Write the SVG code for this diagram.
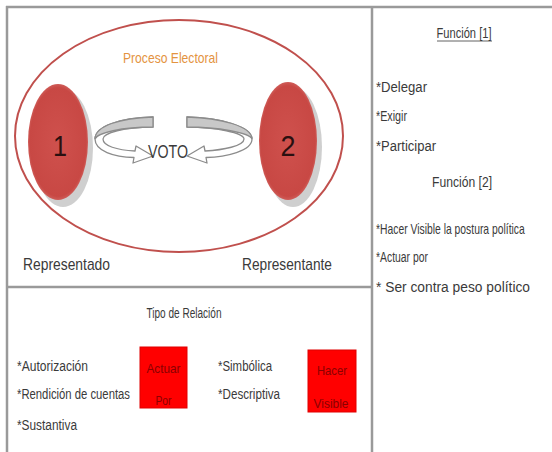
<svg xmlns="http://www.w3.org/2000/svg" width="552" height="452" viewBox="0 0 552 452">
<defs>
<radialGradient id="rg" cx="0.5" cy="0.5" r="0.55">
<stop offset="0" stop-color="#cf514d"/>
<stop offset="0.85" stop-color="#c84844"/>
<stop offset="1" stop-color="#d97a76"/>
</radialGradient>
<style>
.t{font-family:"Liberation Sans",Arial,sans-serif;fill:#3a3a3a;font-size:14px;}
.big{font-size:30px;fill:#2a1010;}
.lbl{font-size:17px;}
.frame{stroke:#9a9a9a;stroke-width:2.5;fill:none;}
.red{fill:#ff0000;stroke:#e00000;stroke-width:1;}
.rt{font-family:"Liberation Sans",Arial,sans-serif;fill:#8a0000;font-size:13px;}
.arr{fill:#ffffff;stroke:#8c8c8c;stroke-width:1.3;stroke-linejoin:round;}
.arrtop{fill:#c8c8c8;stroke:#8c8c8c;stroke-width:1.3;}
.shadow{fill:#cfcfcf;}
</style>
</defs>
<rect width="552" height="452" fill="#ffffff"/>
<g id="frame">
<line class="frame" x1="6" y1="7" x2="552" y2="7"/>
<line class="frame" x1="7" y1="6" x2="7" y2="452"/>
<line class="frame" x1="372" y1="6" x2="372" y2="452"/>
<line class="frame" x1="7" y1="287" x2="372" y2="287"/>
</g>
<g id="proceso-electoral">
<ellipse cx="179" cy="136" rx="164" ry="116" fill="none" stroke="#c0504d" stroke-width="2"/>
<text class="t" x="123" y="63" textLength="95" lengthAdjust="spacingAndGlyphs" style="fill:#e4933f;font-size:15px">Proceso Electoral</text>
</g>
<g id="representado">
<ellipse class="shadow" cx="63" cy="148" rx="30" ry="59"/>
<ellipse cx="58" cy="142" rx="30" ry="58" fill="url(#rg)"/>
<text class="t big" x="60" y="156" text-anchor="middle" textLength="14" lengthAdjust="spacingAndGlyphs">1</text>
<text class="t lbl" x="23" y="270" textLength="87" lengthAdjust="spacingAndGlyphs">Representado</text>
</g>
<g id="representante">
<ellipse class="shadow" cx="293" cy="147" rx="29" ry="60"/>
<ellipse cx="288" cy="141" rx="29" ry="59" fill="url(#rg)"/>
<text class="t big" x="288" y="156" text-anchor="middle" textLength="15" lengthAdjust="spacingAndGlyphs">2</text>
<text class="t lbl" x="242" y="270" textLength="90" lengthAdjust="spacingAndGlyphs">Representante</text>
</g>
<g id="connectors">
<g id="arrow-left">
<path class="arr" d="M153,117 C120,118 95,126 95,139 C95,151 114,157 134,157.5 L133,163 L153,156 L136,146 L135,151 C117,150 103,146 103,139 C103,133 124,127 153,127 Z"/>
<path class="arrtop" d="M153,117 C120,118 95,126 95,139 C97,133 122,127 153,127 Z"/>
</g>
<g id="arrow-right" transform="translate(340,0) scale(-1,1)">
<path class="arr" d="M153,117 C120,118 88,126 88,139 C88,151 114,157 134,157.5 L133,163 L153,156 L136,146 L135,151 C117,150 96,146 96,139 C96,133 124,127 153,127 Z"/>
<path class="arrtop" d="M153,117 C120,118 88,126 88,139 C90,133 122,127 153,127 Z"/>
</g>
<text class="t" x="168" y="158" text-anchor="middle" textLength="40" lengthAdjust="spacingAndGlyphs" style="font-size:18px">VOTO</text>
</g>
<g id="funciones">
<text class="t" x="464" y="38" text-anchor="middle" textLength="55" lengthAdjust="spacingAndGlyphs">Función [1]</text>
<line x1="437" y1="41" x2="492" y2="41" stroke="#3a3a3a" stroke-width="0.8"/>
<text class="t" x="376" y="92" textLength="51" lengthAdjust="spacingAndGlyphs">*Delegar</text>
<text class="t" x="376" y="121" textLength="31" lengthAdjust="spacingAndGlyphs">*Exigir</text>
<text class="t" x="376" y="151" textLength="60" lengthAdjust="spacingAndGlyphs">*Participar</text>
<text class="t" x="462" y="187" text-anchor="middle" textLength="60" lengthAdjust="spacingAndGlyphs">Función [2]</text>
<text class="t" transform="translate(376,234) scale(0.74,1)" x="0" y="0">*Hacer Visible la postura política</text>
<text class="t" x="376" y="262" textLength="52" lengthAdjust="spacingAndGlyphs">*Actuar por</text>
<text class="t" x="376" y="292" textLength="154" lengthAdjust="spacingAndGlyphs">* Ser contra peso político</text>
</g>
<g id="tipo-relacion">
<text class="t" x="184" y="318" text-anchor="middle" textLength="75" lengthAdjust="spacingAndGlyphs">Tipo de Relación</text>
<text class="t" x="17" y="371" textLength="71" lengthAdjust="spacingAndGlyphs">*Autorización</text>
<text class="t" x="17" y="399" textLength="113" lengthAdjust="spacingAndGlyphs">*Rendición de cuentas</text>
<text class="t" x="17" y="430" textLength="60" lengthAdjust="spacingAndGlyphs">*Sustantiva</text>
<text class="t" x="218" y="371" textLength="54" lengthAdjust="spacingAndGlyphs">*Simbólica</text>
<text class="t" x="218" y="399" textLength="62" lengthAdjust="spacingAndGlyphs">*Descriptiva</text>
</g>
<g id="actuar-por">
<rect class="red" x="140" y="347" width="47" height="61"/>
<text class="rt" x="163.5" y="373" text-anchor="middle" textLength="34" lengthAdjust="spacingAndGlyphs">Actuar</text>
<text class="rt" x="163.5" y="405" text-anchor="middle" textLength="16" lengthAdjust="spacingAndGlyphs">Por</text>
</g>
<g id="hacer-visible">
<rect class="red" x="308" y="350" width="48" height="62"/>
<text class="rt" x="332" y="375" text-anchor="middle" textLength="30" lengthAdjust="spacingAndGlyphs">Hacer</text>
<text class="rt" x="331" y="408" text-anchor="middle" textLength="35" lengthAdjust="spacingAndGlyphs">Visible</text>
</g>
</svg>
